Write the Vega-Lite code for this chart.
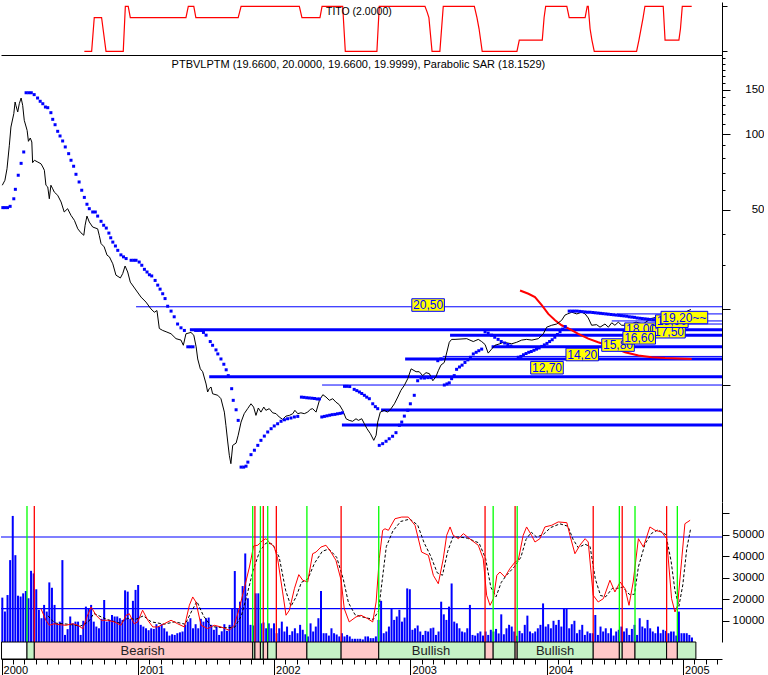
{
"$schema": "https://vega.github.io/schema/vega-lite/v6.json",
"padding": 0,
"spacing": 0,
"bounds": "flush",
"background": "white",
"config": {
  "view": {"stroke": null},
  "axis": {"labelFont": "Liberation Sans", "labelColor": "black", "tickColor": "black", "domainColor": "black", "grid": false, "title": null, "labelFontSize": 11.5, "labelOverlap": false, "labelFlush": false, "labelBound": false},
  "text": {"font": "Liberation Sans"}
},
"resolve": {"scale": {"color": "independent", "fill": "independent"}},
"datasets": {
  "tito": [{"w":31.4,"v":-2},{"w":34.2,"v":-2},{"w":35.2,"v":1},{"w":38.0,"v":1},{"w":39.7,"v":-2},{"w":46.3,"v":-2},{"w":47.1,"v":2},{"w":48.2,"v":2},{"w":49.0,"v":1},{"w":70.3,"v":1},{"w":71.2,"v":2},{"w":73.3,"v":2},{"w":74.1,"v":1},{"w":90.3,"v":1},{"w":91.4,"v":2},{"w":113.7,"v":2},{"w":114.7,"v":1},{"w":121.6,"v":1},{"w":122.4,"v":2},{"w":130.3,"v":2},{"w":131.3,"v":-2},{"w":143.4,"v":-2},{"w":144.3,"v":2},{"w":161.8,"v":2},{"w":162.6,"v":1.5},{"w":163.3,"v":1},{"w":164.5,"v":-2},{"w":167.5,"v":-2},{"w":168.8,"v":2},{"w":180.7,"v":2},{"w":181.7,"v":1},{"w":182.5,"v":0},{"w":183.1,"v":-1},{"w":183.7,"v":-2},{"w":197.0,"v":-2},{"w":197.9,"v":-1},{"w":206.7,"v":-1},{"w":207.4,"v":1},{"w":208.0,"v":2},{"w":216.1,"v":2},{"w":217.0,"v":1},{"w":223.1,"v":1},{"w":223.9,"v":2},{"w":224.3,"v":2},{"w":225.0,"v":0},{"w":225.7,"v":-1},{"w":226.6,"v":-2},{"w":242.8,"v":-2},{"w":243.7,"v":-1},{"w":244.5,"v":0},{"w":245.3,"v":1},{"w":246.0,"v":2},{"w":253.0,"v":2},{"w":253.7,"v":-1},{"w":259.0,"v":-1},{"w":259.6,"v":0},{"w":260.3,"v":2},{"w":263.9,"v":2}],
  "price": [{"w":0,"p":62.5},{"w":1.0,"p":65.4},{"w":1.8,"p":72.7},{"w":2.7,"p":90.2},{"w":3.3,"p":106.6},{"w":4.4,"p":120.5},{"w":4.9,"p":134.1},{"w":5.2,"p":130.1},{"w":5.9,"p":122.4},{"w":6.5,"p":132},{"w":7.2,"p":139.1},{"w":7.8,"p":130.1},{"w":8.4,"p":113.4},{"w":9.5,"p":103.4},{"w":10.0,"p":93.5},{"w":10.7,"p":96.4},{"w":11.3,"p":92.9},{"w":11.6,"p":76.9},{"w":12.3,"p":78.6},{"w":13.6,"p":77.3},{"w":14.8,"p":76.1},{"w":15.5,"p":73.9},{"w":16.1,"p":71.7},{"w":16.7,"p":62.5},{"w":17.4,"p":61.5},{"w":18.0,"p":55.2},{"w":18.6,"p":62.5},{"w":19.3,"p":60.5},{"w":19.9,"p":58.7},{"w":21.2,"p":57.0},{"w":22.5,"p":53.6},{"w":23.7,"p":48.9},{"w":25.0,"p":50.4},{"w":26.3,"p":47.4},{"w":27.6,"p":45.3},{"w":28.9,"p":41.9},{"w":30.1,"p":40.4},{"w":31.2,"p":39.5},{"w":31.7,"p":43.3},{"w":32.4,"p":47.1},{"w":33.3,"p":44.6},{"w":34.6,"p":42.6},{"w":36.5,"p":41.9},{"w":37.1,"p":39.5},{"w":37.8,"p":36.6},{"w":39.0,"p":35.5},{"w":40.1,"p":32.9},{"w":41.0,"p":32.4},{"w":42.3,"p":30.4},{"w":43.5,"p":27.4},{"w":45.2,"p":26.7},{"w":46.1,"p":27.8},{"w":47.0,"p":29.8},{"w":48.0,"p":28.2},{"w":49.0,"p":25.7},{"w":53.1,"p":22.4},{"w":55.0,"p":21.4},{"w":56.9,"p":20.1},{"w":58.2,"p":19.5},{"w":59.2,"p":19.8},{"w":60.1,"p":16.8},{"w":61.4,"p":16.5},{"w":62.7,"p":16.3},{"w":64.6,"p":16.0},{"w":66.5,"p":15.3},{"w":68.4,"p":15.1},{"w":69.3,"p":14.4},{"w":70.3,"p":16.0},{"w":72.2,"p":16.2},{"w":73.3,"p":15.8},{"w":74.2,"p":14.2},{"w":74.8,"p":12.7},{"w":75.8,"p":11.6},{"w":76.7,"p":11.3},{"w":78.0,"p":10.1},{"w":78.6,"p":9.38},{"w":79.2,"p":9.67},{"w":79.9,"p":9.82},{"w":80.5,"p":9.23},{"w":82.5,"p":9.10},{"w":83.7,"p":8.82},{"w":85.0,"p":7.80},{"w":85.6,"p":6.91},{"w":86.3,"p":5.93},{"w":86.9,"p":5.25},{"w":87.5,"p":4.86},{"w":88.2,"p":5.75},{"w":89.5,"p":5.87},{"w":90.3,"p":6.31},{"w":91.4,"p":7.12},{"w":92.6,"p":7.69},{"w":93.9,"p":8.05},{"w":95.2,"p":8.42},{"w":96.2,"p":8.17},{"w":97.1,"p":7.57},{"w":98.0,"p":8.10},{"w":99.0,"p":7.80},{"w":100.1,"p":8.17},{"w":100.9,"p":7.93},{"w":102.2,"p":8.05},{"w":103.5,"p":7.75},{"w":104.8,"p":7.69},{"w":106.0,"p":7.46},{"w":107.3,"p":7.30},{"w":108.6,"p":7.52},{"w":109.9,"p":7.57},{"w":111.2,"p":7.69},{"w":112.0,"p":7.93},{"w":113.1,"p":7.69},{"w":114.3,"p":7.75},{"w":115.6,"p":7.69},{"w":116.9,"p":7.80},{"w":117.9,"p":8.00},{"w":118.8,"p":8.05},{"w":120.1,"p":7.80},{"w":121.4,"p":8.69},{"w":122.7,"p":9.15},{"w":123.9,"p":8.96},{"w":125.2,"p":8.69},{"w":126.5,"p":8.82},{"w":127.7,"p":8.55},{"w":129.0,"p":8.35},{"w":130.3,"p":7.93},{"w":131.6,"p":7.34},{"w":132.8,"p":7.23},{"w":134.1,"p":7.17},{"w":135.4,"p":7.34},{"w":136.3,"p":7.23},{"w":137.6,"p":7.34},{"w":138.6,"p":7.01},{"w":139.6,"p":6.70},{"w":140.9,"p":6.40},{"w":142.2,"p":6.02},{"w":143.1,"p":6.31},{"w":143.7,"p":7.12},{"w":144.7,"p":7.80},{"w":146.2,"p":7.93},{"w":147.5,"p":7.80},{"w":148.8,"p":8.05},{"w":150.1,"p":8.42},{"w":151.4,"p":8.96},{"w":152.6,"p":9.53},{"w":153.9,"p":9.97},{"w":155.2,"p":10.6},{"w":156.5,"p":11.6},{"w":158.4,"p":11.3},{"w":159.6,"p":11.3},{"w":160.9,"p":10.9},{"w":162.2,"p":11.2},{"w":163.5,"p":11.1},{"w":164.8,"p":10.4},{"w":166.0,"p":10.8},{"w":166.9,"p":11.4},{"w":167.9,"p":12.0},{"w":169.2,"p":12.3},{"w":171.1,"p":14.8},{"w":172.0,"p":15.2},{"w":173.3,"p":15.2},{"w":177.8,"p":15.3},{"w":179.0,"p":15.1},{"w":180.3,"p":14.9},{"w":182.2,"p":15.2},{"w":183.5,"p":14.9},{"w":184.8,"p":14.5},{"w":186.0,"p":13.4},{"w":187.3,"p":13.9},{"w":188.6,"p":14.4},{"w":190.5,"p":14.6},{"w":191.8,"p":14.8},{"w":195.0,"p":14.6},{"w":196.9,"p":14.8},{"w":198.8,"p":15.1},{"w":200.7,"p":15.2},{"w":202.7,"p":15.1},{"w":205.2,"p":15.3},{"w":207.1,"p":16.0},{"w":208.4,"p":17.0},{"w":210.3,"p":17.3},{"w":212.2,"p":17.5},{"w":214.1,"p":18.1},{"w":215.4,"p":19.0},{"w":216.4,"p":19.2},{"w":218.0,"p":19.5},{"w":219.9,"p":19.2},{"w":221.8,"p":19.5},{"w":223.1,"p":19.2},{"w":224.3,"p":18.5},{"w":225.6,"p":17.3},{"w":227.5,"p":17.4},{"w":228.8,"p":17.0},{"w":230.7,"p":17.5},{"w":232.0,"p":17.0},{"w":233.3,"p":17.7},{"w":234.5,"p":17.3},{"w":235.8,"p":17.8},{"w":237.1,"p":17.3},{"w":239.4,"p":17.3},{"w":242.6,"p":17.8},{"w":245.3,"p":17.5},{"w":248.3,"p":18.4},{"w":250.2,"p":18.6},{"w":252.2,"p":18.2},{"w":255.2,"p":18.8},{"w":258.3,"p":19.2},{"w":261.3,"p":19.5},{"w":263.6,"p":20.0}],
  "sar": [{"w":0.2,"p":50.9},{"w":1,"p":50.9},{"w":2,"p":50.9},{"w":3,"p":51.5},{"w":4.4,"p":55.2},{"w":5,"p":60.2},{"w":6.1,"p":68.5},{"w":7.2,"p":76.4},{"w":8.2,"p":84.8},{"w":9.1,"p":146},{"w":10.1,"p":146},{"w":11.1,"p":146},{"w":12.2,"p":143.5},{"w":13.5,"p":139.1},{"w":14.5,"p":135},{"w":15.5,"p":132},{"w":16.5,"p":128.1},{"w":17.4,"p":127.3},{"w":18.6,"p":121.6},{"w":19.3,"p":114.4},{"w":20.2,"p":108.9},{"w":21.2,"p":102.5},{"w":22.1,"p":98.2},{"w":23.1,"p":93.8},{"w":24.1,"p":88.8},{"w":25.4,"p":83.5},{"w":26.3,"p":78.6},{"w":27.3,"p":74.4},{"w":28.2,"p":69.1},{"w":29.4,"p":64.4},{"w":30.4,"p":59.7},{"w":31.4,"p":55.9},{"w":32.4,"p":52.5},{"w":33.3,"p":50.4},{"w":34.6,"p":48.9},{"w":35.6,"p":48.9},{"w":36.5,"p":47.1},{"w":37.8,"p":44.9},{"w":38.8,"p":43.3},{"w":39.8,"p":42.2},{"w":40.8,"p":40.3},{"w":41.5,"p":38.6},{"w":42.3,"p":37.1},{"w":43.3,"p":35.8},{"w":44.2,"p":34.4},{"w":45.4,"p":33.0},{"w":46.4,"p":32.4},{"w":47.4,"p":31.9},{"w":49.3,"p":31.4},{"w":50.3,"p":31.4},{"w":51.2,"p":31.4},{"w":52.4,"p":30.9},{"w":53.4,"p":30.0},{"w":54.4,"p":28.9},{"w":55.4,"p":28.2},{"w":56.3,"p":27.5},{"w":57.2,"p":27.2},{"w":58.5,"p":26.1},{"w":59.5,"p":25.0},{"w":60.4,"p":24.1},{"w":61.4,"p":23.1},{"w":62.3,"p":22.1},{"w":63.3,"p":20.6},{"w":64.6,"p":19.7},{"w":65.8,"p":18.7},{"w":67.1,"p":17.5},{"w":68.4,"p":16.9},{"w":69.7,"p":16.5},{"w":71,"p":14.2},{"w":72,"p":14.2},{"w":73,"p":14.2},{"w":74,"p":16.5},{"w":75,"p":16.5},{"w":76,"p":16.5},{"w":77,"p":16.2},{"w":78,"p":15.8},{"w":79.6,"p":14.9},{"w":80.5,"p":14.4},{"w":81.8,"p":13.8},{"w":82.5,"p":13.3},{"w":83.7,"p":12.7},{"w":84.8,"p":12.1},{"w":85.7,"p":11.5},{"w":86.5,"p":10.9},{"w":87.8,"p":9.67},{"w":88.4,"p":8.69},{"w":89.5,"p":7.97},{"w":90.3,"p":7.23},{"w":91.4,"p":4.71},{"w":92.4,"p":4.71},{"w":93.3,"p":4.75},{"w":94,"p":4.93},{"w":95.2,"p":5.28},{"w":96.5,"p":5.5},{"w":97.8,"p":5.75},{"w":99,"p":6.02},{"w":100.3,"p":6.26},{"w":101.6,"p":6.5},{"w":102.9,"p":6.7},{"w":104.1,"p":6.87},{"w":105.4,"p":7.01},{"w":106.7,"p":7.17},{"w":108,"p":7.27},{"w":109.2,"p":7.34},{"w":110.5,"p":7.39},{"w":111.8,"p":7.46},{"w":113.1,"p":7.5},{"w":114.5,"p":8.95},{"w":115.5,"p":8.93},{"w":116.5,"p":8.9},{"w":117.5,"p":8.88},{"w":118.5,"p":8.86},{"w":119.5,"p":8.84},{"w":120.5,"p":8.8},{"w":121.4,"p":8.8},{"w":122.3,"p":7.46},{"w":123.3,"p":7.5},{"w":124.3,"p":7.54},{"w":125.3,"p":7.58},{"w":126.3,"p":7.62},{"w":127.3,"p":7.64},{"w":128.3,"p":7.68},{"w":129.3,"p":7.71},{"w":130.2,"p":7.75},{"w":131,"p":9.88},{"w":132,"p":9.88},{"w":133,"p":9.86},{"w":134.7,"p":9.61},{"w":135.7,"p":9.5},{"w":136.7,"p":9.38},{"w":137.6,"p":9.25},{"w":138.6,"p":9.1},{"w":139.5,"p":8.95},{"w":140.5,"p":8.82},{"w":141.8,"p":8.42},{"w":142.8,"p":8.2},{"w":143.7,"p":8.05},{"w":144.3,"p":5.75},{"w":145.6,"p":5.84},{"w":146.9,"p":5.97},{"w":148.1,"p":6.11},{"w":149.4,"p":6.25},{"w":150.7,"p":6.46},{"w":152,"p":6.91},{"w":152.9,"p":7.12},{"w":153.9,"p":7.52},{"w":155.2,"p":7.93},{"w":156.2,"p":8.42},{"w":157.7,"p":9.1},{"w":159,"p":10.4},{"w":160.3,"p":10.66},{"w":161.6,"p":10.66},{"w":162.9,"p":10.7},{"w":164.1,"p":10.7},{"w":166.7,"p":12.5},{"w":167.9,"p":12.7},{"w":169.2,"p":10.0},{"w":170.2,"p":10.1},{"w":171.1,"p":10.2},{"w":172,"p":10.6},{"w":173,"p":10.9},{"w":173.9,"p":11.55},{"w":175,"p":11.8},{"w":176,"p":12.0},{"w":177.1,"p":12.3},{"w":178.2,"p":12.6},{"w":179.2,"p":12.9},{"w":180.3,"p":13.3},{"w":181.4,"p":13.5},{"w":182.4,"p":13.7},{"w":183.5,"p":13.9},{"w":184.8,"p":16.3},{"w":186,"p":16.1},{"w":187.3,"p":15.8},{"w":188.5,"p":15.5},{"w":189.8,"p":15.2},{"w":191,"p":14.9},{"w":192.3,"p":14.7},{"w":193.5,"p":14.5},{"w":194.7,"p":14.3},{"w":197.5,"p":12.9},{"w":198.5,"p":13.0},{"w":199.5,"p":13.2},{"w":200.5,"p":13.35},{"w":201.5,"p":13.5},{"w":202.5,"p":13.6},{"w":203.5,"p":13.75},{"w":204.5,"p":13.9},{"w":205.5,"p":14.05},{"w":206.5,"p":14.25},{"w":207.5,"p":14.45},{"w":208.5,"p":14.65},{"w":209.5,"p":14.9},{"w":210.5,"p":15.15},{"w":211.5,"p":15.5},{"w":212.5,"p":15.9},{"w":213.5,"p":16.3},{"w":214.5,"p":16.7},{"w":215.5,"p":17.1},{"w":217,"p":19.7},{"w":218,"p":19.7},{"w":219,"p":19.7},{"w":220,"p":19.7},{"w":221,"p":19.65},{"w":222,"p":19.6},{"w":223,"p":19.55},{"w":224,"p":19.5},{"w":225,"p":19.5},{"w":226,"p":19.45},{"w":227,"p":19.4},{"w":228,"p":19.35},{"w":229,"p":19.3},{"w":230,"p":19.25},{"w":231,"p":19.2},{"w":232,"p":19.15},{"w":233,"p":19.1},{"w":234,"p":19.05},{"w":235,"p":19.0},{"w":236,"p":18.95},{"w":237,"p":18.9},{"w":238,"p":18.85},{"w":239,"p":18.8},{"w":240,"p":18.7},{"w":241,"p":18.65},{"w":242,"p":18.6},{"w":243,"p":18.5},{"w":244,"p":18.45},{"w":245,"p":18.4},{"w":246,"p":18.35},{"w":247,"p":18.3},{"w":248,"p":18.25},{"w":249,"p":18.2},{"w":250,"p":18.2},{"w":251,"p":18.15}],
  "curve": [{"w":198.2,"p":23.8},{"w":201.4,"p":23.1},{"w":203.9,"p":22.4},{"w":206.5,"p":20.8},{"w":209.0,"p":19.2},{"w":211.6,"p":18.1},{"w":214.1,"p":17.3},{"w":216.7,"p":16.8},{"w":220.5,"p":16.0},{"w":224.3,"p":15.3},{"w":228.1,"p":14.8},{"w":233.3,"p":14.2},{"w":238.4,"p":13.5},{"w":243.5,"p":13.1},{"w":248.6,"p":12.9},{"w":253.7,"p":12.8},{"w":263.9,"p":12.7}],
  "levels": [{"w":51.2,"p":20.5,"k":"thin"},{"w":235.3,"p":19.2,"k":"thin"},{"w":233.3,"p":18.0,"k":"thin"},{"w":243.0,"p":17.5,"k":"thin"},{"w":71.8,"p":16.6,"k":"thick"},{"w":171.4,"p":15.8,"k":"thick"},{"w":187.3,"p":14.2,"k":"thick"},{"w":168.6,"p":13.0,"k":"thin"},{"w":154.2,"p":12.7,"k":"thick"},{"w":79.2,"p":10.8,"k":"thick"},{"w":122.4,"p":10.0,"k":"thin"},{"w":145.0,"p":7.95,"k":"thick"},{"w":130.0,"p":6.93,"k":"thick"}],
  "labels": [{"w":163.0,"p":20.83,"label":"20,50","grp":"a"},{"w":208.5,"p":11.72,"label":"12,70","grp":"a"},{"w":222.0,"p":13.23,"label":"14,20","grp":"a"},{"w":235.7,"p":14.43,"label":"15,80","grp":"a"},{"w":244.5,"p":16.69,"label":"18,00","grp":"b"},{"w":255.2,"p":16.31,"label":"17,50","grp":"c"},{"w":243.8,"p":15.42,"label":"16,60","grp":"d"},{"w":256.3,"p":17.96,"label":"18,90","grp":"e"},{"w":261.1,"p":18.57,"label":"19,20~~","grp":"f"}],
  "titles": [{"w":64.8,"p":187.5,"t":"PTBVLPTM (19.6600, 20.0000, 19.6600, 19.9999), Parabolic SAR (18.1529)"}],
  "vol": [{"w":0,"v":20700},{"w":1,"v":14200},{"w":2,"v":21900},{"w":3,"v":38200},{"w":4,"v":58800},{"w":5,"v":40500},{"w":6,"v":21600},{"w":7,"v":21200},{"w":8,"v":22700},{"w":9,"v":23800},{"w":10,"v":20400},{"w":11,"v":33200},{"w":12,"v":32000},{"w":13,"v":24600},{"w":14,"v":15000},{"w":15,"v":11100},{"w":16,"v":17300},{"w":17,"v":14200},{"w":18,"v":27800},{"w":19,"v":25300},{"w":20,"v":17300},{"w":21,"v":8700},{"w":22,"v":9500},{"w":23,"v":38200},{"w":24,"v":3300},{"w":25,"v":6000},{"w":26,"v":11900},{"w":27,"v":8700},{"w":28,"v":9500},{"w":29,"v":9500},{"w":30,"v":3300},{"w":31,"v":9900},{"w":32,"v":16500},{"w":33,"v":15700},{"w":34,"v":17300},{"w":35,"v":9500},{"w":36,"v":7200},{"w":37,"v":6400},{"w":38,"v":10800},{"w":39,"v":19600},{"w":40,"v":9500},{"w":41,"v":10300},{"w":42,"v":12600},{"w":43,"v":11900},{"w":44,"v":11900},{"w":45,"v":11100},{"w":46,"v":10300},{"w":47,"v":24100},{"w":48,"v":23500},{"w":49,"v":10800},{"w":50,"v":19200},{"w":51,"v":24300},{"w":52,"v":26600},{"w":53,"v":8000},{"w":54,"v":7200},{"w":55,"v":6400},{"w":56,"v":5500},{"w":57,"v":6400},{"w":58,"v":6100},{"w":59,"v":8300},{"w":60,"v":7200},{"w":61,"v":8300},{"w":62,"v":6400},{"w":63,"v":4900},{"w":64,"v":3000},{"w":65,"v":3600},{"w":66,"v":3300},{"w":67,"v":4100},{"w":68,"v":4500},{"w":69,"v":4900},{"w":70,"v":8000},{"w":71,"v":9500},{"w":72,"v":11100},{"w":73,"v":6400},{"w":74,"v":8300},{"w":75,"v":6400},{"w":76,"v":10800},{"w":77,"v":9500},{"w":78,"v":11100},{"w":79,"v":11400},{"w":80,"v":8000},{"w":81,"v":5700},{"w":82,"v":7200},{"w":83,"v":3300},{"w":84,"v":5000},{"w":85,"v":8300},{"w":86,"v":5200},{"w":87,"v":8000},{"w":88,"v":15400},{"w":89,"v":33100},{"w":90,"v":15700},{"w":91,"v":18800},{"w":92,"v":26100},{"w":93,"v":41300},{"w":94,"v":20400},{"w":95,"v":8000},{"w":96,"v":7700},{"w":97,"v":22700},{"w":98,"v":22700},{"w":99,"v":8700},{"w":100,"v":9100},{"w":101,"v":6400},{"w":102,"v":8700},{"w":103,"v":6400},{"w":104,"v":8700},{"w":105,"v":4100},{"w":106,"v":6400},{"w":107,"v":9500},{"w":108,"v":4900},{"w":109,"v":7200},{"w":110,"v":3300},{"w":111,"v":5000},{"w":112,"v":6400},{"w":113,"v":4100},{"w":114,"v":8000},{"w":115,"v":5700},{"w":116,"v":3600},{"w":117,"v":2600},{"w":118,"v":8700},{"w":119,"v":4900},{"w":120,"v":7200},{"w":121,"v":11100},{"w":122,"v":23800},{"w":123,"v":4100},{"w":124,"v":4100},{"w":125,"v":3000},{"w":126,"v":6400},{"w":127,"v":4100},{"w":128,"v":3500},{"w":129,"v":2600},{"w":130,"v":4100},{"w":131,"v":2600},{"w":132,"v":3300},{"w":133,"v":2600},{"w":134,"v":1500},{"w":135,"v":1500},{"w":136,"v":1500},{"w":137,"v":1500},{"w":138,"v":1200},{"w":139,"v":2600},{"w":140,"v":2600},{"w":141,"v":1800},{"w":142,"v":1800},{"w":143,"v":2600},{"w":144,"v":10300},{"w":145,"v":19200},{"w":146,"v":4100},{"w":147,"v":4900},{"w":148,"v":7200},{"w":149,"v":15700},{"w":150,"v":10300},{"w":151,"v":11900},{"w":152,"v":15000},{"w":153,"v":9500},{"w":154,"v":11400},{"w":155,"v":25000},{"w":156,"v":24600},{"w":157,"v":5700},{"w":158,"v":6400},{"w":159,"v":7700},{"w":160,"v":4900},{"w":161,"v":3300},{"w":162,"v":5200},{"w":163,"v":4900},{"w":164,"v":6400},{"w":165,"v":6700},{"w":166,"v":3300},{"w":167,"v":4900},{"w":168,"v":18800},{"w":169,"v":12900},{"w":170,"v":10300},{"w":171,"v":16500},{"w":172,"v":27300},{"w":173,"v":9500},{"w":174,"v":8700},{"w":175,"v":6400},{"w":176,"v":4900},{"w":177,"v":4500},{"w":178,"v":6400},{"w":179,"v":17300},{"w":180,"v":3300},{"w":181,"v":3000},{"w":182,"v":4100},{"w":183,"v":4900},{"w":184,"v":3000},{"w":185,"v":4900},{"w":186,"v":3300},{"w":187,"v":5700},{"w":188,"v":4900},{"w":189,"v":6100},{"w":190,"v":4000},{"w":191,"v":12900},{"w":192,"v":3600},{"w":193,"v":6400},{"w":194,"v":8000},{"w":195,"v":7200},{"w":196,"v":4900},{"w":197,"v":2900},{"w":198,"v":5200},{"w":199,"v":4100},{"w":200,"v":8000},{"w":201,"v":12300},{"w":202,"v":4900},{"w":203,"v":4100},{"w":204,"v":4900},{"w":205,"v":6400},{"w":206,"v":8000},{"w":207,"v":18000},{"w":208,"v":7200},{"w":209,"v":8300},{"w":210,"v":6400},{"w":211,"v":9900},{"w":212,"v":8000},{"w":213,"v":10300},{"w":214,"v":7200},{"w":215,"v":15400},{"w":216,"v":15700},{"w":217,"v":6400},{"w":218,"v":8300},{"w":219,"v":9900},{"w":220,"v":4100},{"w":221,"v":5700},{"w":222,"v":8000},{"w":223,"v":3300},{"w":224,"v":4900},{"w":225,"v":4100},{"w":226,"v":4100},{"w":227,"v":12600},{"w":228,"v":3300},{"w":229,"v":7200},{"w":230,"v":4900},{"w":231,"v":6400},{"w":232,"v":4100},{"w":233,"v":6400},{"w":234,"v":3000},{"w":235,"v":4900},{"w":236,"v":5700},{"w":237,"v":7200},{"w":238,"v":4900},{"w":239,"v":6400},{"w":240,"v":3300},{"w":241,"v":6100},{"w":242,"v":8000},{"w":243,"v":3300},{"w":244,"v":11100},{"w":245,"v":7200},{"w":246,"v":6400},{"w":247,"v":10300},{"w":248,"v":6400},{"w":249,"v":4900},{"w":250,"v":4100},{"w":251,"v":7200},{"w":252,"v":4100},{"w":253,"v":5700},{"w":254,"v":5200},{"w":255,"v":4100},{"w":256,"v":4900},{"w":257,"v":4900},{"w":258,"v":3000},{"w":259,"v":14200},{"w":260,"v":4100},{"w":261,"v":4100},{"w":262,"v":4100},{"w":263,"v":3300},{"w":264,"v":2100}],
  "osc": [{"w":14.8,"o":20.0},{"w":16.7,"o":10.3},{"w":18.0,"o":6.1},{"w":19.9,"o":7.4},{"w":21.8,"o":6.6},{"w":24.4,"o":6.1},{"w":26.9,"o":7.4},{"w":28.9,"o":6.1},{"w":30.8,"o":3.3},{"w":32.4,"o":13.1},{"w":34.0,"o":21.4},{"w":35.9,"o":14.5},{"w":37.8,"o":10.3},{"w":40.3,"o":10.3},{"w":42.9,"o":8.9},{"w":45.4,"o":6.1},{"w":47.4,"o":14.5},{"w":48.6,"o":15.8},{"w":50.5,"o":7.4},{"w":51.8,"o":8.9},{"w":53.7,"o":18.7},{"w":55.7,"o":10.3},{"w":57.6,"o":4.7},{"w":59.5,"o":4.7},{"w":62.0,"o":7.4},{"w":64.6,"o":10.3},{"w":67.1,"o":7.4},{"w":69.7,"o":4.7},{"w":71.6,"o":22.8},{"w":72.9,"o":29.8},{"w":74.1,"o":25.6},{"w":76.1,"o":6.1},{"w":78.6,"o":3.3},{"w":81.1,"o":6.1},{"w":83.7,"o":4.7},{"w":86.9,"o":1.9},{"w":88.8,"o":6.1},{"w":90.7,"o":20.0},{"w":92.6,"o":36.7},{"w":94.6,"o":54.9},{"w":96.2,"o":72.5},{"w":97.8,"o":73.1},{"w":99.7,"o":77.2},{"w":100.9,"o":78.6},{"w":102.2,"o":75.8},{"w":104.1,"o":71.6},{"w":105.4,"o":61.8},{"w":107.3,"o":34.0},{"w":108.6,"o":14.5},{"w":109.9,"o":18.7},{"w":111.8,"o":36.7},{"w":113.5,"o":48.5},{"w":115.0,"o":43.8},{"w":116.9,"o":42.3},{"w":118.8,"o":66.0},{"w":120.1,"o":67.4},{"w":122.0,"o":71.6},{"w":123.9,"o":73.1},{"w":125.8,"o":67.4},{"w":127.7,"o":60.5},{"w":129.7,"o":43.8},{"w":130.9,"o":20.0},{"w":132.8,"o":8.9},{"w":135.4,"o":13.1},{"w":137.3,"o":14.5},{"w":139.9,"o":11.6},{"w":141.8,"o":8.9},{"w":143.1,"o":25.6},{"w":144.3,"o":61.8},{"w":145.6,"o":85.6},{"w":146.5,"o":86.9},{"w":147.8,"o":85.6},{"w":150.3,"o":95.3},{"w":152.9,"o":96.7},{"w":155.4,"o":96.7},{"w":158.0,"o":89.8},{"w":160.5,"o":67.4},{"w":163.1,"o":64.7},{"w":165.0,"o":47.9},{"w":166.9,"o":40.9},{"w":168.8,"o":61.8},{"w":170.1,"o":81.4},{"w":171.4,"o":88.4},{"w":172.6,"o":81.4},{"w":174.6,"o":78.6},{"w":176.5,"o":82.8},{"w":179.7,"o":77.2},{"w":182.2,"o":73.1},{"w":184.1,"o":61.8},{"w":185.4,"o":31.2},{"w":186.7,"o":22.8},{"w":188.0,"o":28.4},{"w":189.3,"o":47.9},{"w":190.5,"o":50.7},{"w":192.4,"o":46.5},{"w":194.3,"o":53.5},{"w":196.3,"o":59.1},{"w":197.5,"o":60.5},{"w":199.4,"o":81.4},{"w":200.7,"o":88.4},{"w":202.6,"o":81.4},{"w":203.9,"o":75.8},{"w":205.8,"o":78.6},{"w":207.7,"o":88.4},{"w":210.3,"o":89.8},{"w":212.8,"o":92.6},{"w":216.1,"o":92.0},{"w":217.3,"o":81.4},{"w":219.2,"o":66.0},{"w":221.1,"o":73.1},{"w":223.1,"o":78.6},{"w":224.3,"o":75.8},{"w":226.2,"o":31.2},{"w":228.1,"o":25.6},{"w":230.1,"o":28.4},{"w":232.6,"o":43.8},{"w":234.5,"o":34.0},{"w":236.5,"o":42.3},{"w":238.4,"o":36.7},{"w":239.9,"o":22.8},{"w":241.5,"o":42.3},{"w":243.5,"o":78.6},{"w":245.4,"o":71.6},{"w":247.9,"o":88.4},{"w":249.9,"o":85.6},{"w":252.4,"o":84.2},{"w":254.3,"o":78.6},{"w":256.2,"o":28.4},{"w":257.5,"o":17.2},{"w":258.5,"o":22.8},{"w":260.1,"o":61.8},{"w":261.3,"o":91.1},{"w":263.3,"o":94.0}],
  "oscd": [{"w":17.5,"o":14},{"w":20,"o":8},{"w":25,"o":7},{"w":30,"o":5.5},{"w":33,"o":9},{"w":35,"o":16},{"w":37,"o":14},{"w":40,"o":11},{"w":45,"o":8},{"w":48,"o":12},{"w":51,"o":11},{"w":54,"o":14},{"w":57,"o":9},{"w":62,"o":7},{"w":66,"o":9},{"w":70,"o":7},{"w":72.5,"o":18},{"w":74.5,"o":26},{"w":77,"o":14},{"w":80,"o":5},{"w":85,"o":4},{"w":89,"o":4.5},{"w":91.5,"o":14},{"w":93.5,"o":30},{"w":96,"o":52},{"w":98.5,"o":68},{"w":101,"o":75},{"w":103.5,"o":74},{"w":106,"o":63},{"w":108.5,"o":35},{"w":110.5,"o":22},{"w":112.5,"o":30},{"w":114.5,"o":42},{"w":117,"o":45},{"w":119.5,"o":58},{"w":122.5,"o":68},{"w":125,"o":70},{"w":128,"o":63},{"w":130.5,"o":45},{"w":132.5,"o":25},{"w":135,"o":15},{"w":138,"o":13},{"w":142,"o":11},{"w":144,"o":18},{"w":145.5,"o":45},{"w":147,"o":72},{"w":149.5,"o":85},{"w":152.5,"o":93},{"w":156,"o":95},{"w":159,"o":90},{"w":161.5,"o":75},{"w":164,"o":64},{"w":166.5,"o":50},{"w":168.5,"o":48},{"w":170.5,"o":68},{"w":172.5,"o":80},{"w":175,"o":80},{"w":178,"o":79},{"w":182.5,"o":75},{"w":185,"o":62},{"w":187,"o":38},{"w":189,"o":30},{"w":191,"o":42},{"w":193,"o":48},{"w":196,"o":55},{"w":198.5,"o":63},{"w":200.5,"o":78},{"w":202.5,"o":84},{"w":204.5,"o":80},{"w":207,"o":82},{"w":210,"o":88},{"w":213.5,"o":91},{"w":216.5,"o":89},{"w":218.5,"o":78},{"w":220.5,"o":71},{"w":223,"o":74},{"w":225,"o":72},{"w":227,"o":45},{"w":229,"o":31},{"w":231,"o":30},{"w":233.5,"o":37},{"w":235.5,"o":37},{"w":237.5,"o":38},{"w":240,"o":32},{"w":242,"o":32},{"w":243.5,"o":55},{"w":246,"o":74},{"w":248.5,"o":83},{"w":251,"o":86},{"w":254,"o":82},{"w":256,"o":60},{"w":257.5,"o":35},{"w":259,"o":22},{"w":260.5,"o":40},{"w":262,"o":70},{"w":263.5,"o":87}],
  "osclev": [{"o":80},{"o":20}],
  "signals": [{"w":9.45,"s":"buy"},{"w":12.25,"s":"sell"},{"w":95.85,"s":"buy"},{"w":96.7,"s":"sell"},{"w":98.8,"s":"buy"},{"w":99.9,"s":"sell"},{"w":101.6,"s":"buy"},{"w":104.9,"s":"sell"},{"w":116.6,"s":"buy"},{"w":129.7,"s":"sell"},{"w":144.1,"s":"buy"},{"w":184.8,"s":"sell"},{"w":187.9,"s":"buy"},{"w":196.3,"s":"sell"},{"w":197.1,"s":"buy"},{"w":226.2,"s":"sell"},{"w":236.2,"s":"buy"},{"w":237.3,"s":"sell"},{"w":242.2,"s":"buy"},{"w":254.3,"s":"sell"},{"w":258.4,"s":"buy"}],
  "bands": [{"w0":-0.3,"w1":9.45,"st":"none"},{"w0":9.45,"w1":12.25,"st":"bull"},{"w0":12.25,"w1":95.85,"st":"bear"},{"w0":95.85,"w1":96.7,"st":"bull"},{"w0":96.7,"w1":98.8,"st":"bear"},{"w0":98.8,"w1":99.9,"st":"bull"},{"w0":99.9,"w1":101.6,"st":"bear"},{"w0":101.6,"w1":104.9,"st":"bull"},{"w0":104.9,"w1":116.6,"st":"bear"},{"w0":116.6,"w1":129.7,"st":"bull"},{"w0":129.7,"w1":144.1,"st":"bear"},{"w0":144.1,"w1":184.8,"st":"bull"},{"w0":184.8,"w1":187.9,"st":"bear"},{"w0":187.9,"w1":196.3,"st":"bull"},{"w0":196.3,"w1":197.1,"st":"bear"},{"w0":197.1,"w1":226.2,"st":"bull"},{"w0":226.2,"w1":236.2,"st":"bear"},{"w0":236.2,"w1":237.3,"st":"bull"},{"w0":237.3,"w1":242.2,"st":"bear"},{"w0":242.2,"w1":254.3,"st":"bull"},{"w0":254.3,"w1":258.4,"st":"bear"},{"w0":258.4,"w1":265.5,"st":"bull"}],
  "bandtext": [{"w":53.7,"t":"Bearish"},{"w":164.1,"t":"Bullish"},{"w":211.6,"t":"Bullish"}]
},
"vconcat": [
  {
    "width": 721, "height": 53,
    "encoding": {"x": {"field": "w", "type": "quantitative", "scale": {"domain": [-0.5, 275.5], "nice": false, "zero": false}, "axis": {"labels": false, "ticks": false, "domain": true, "title": null}}},
    "layer": [
      {"data": {"name": "tito"}, "mark": {"type": "line", "color": "#ff0000", "strokeWidth": 1.2},
       "encoding": {"y": {"field": "v", "type": "quantitative", "scale": {"domain": [-2.33, 2.38], "nice": false, "zero": false},
         "axis": {"orient": "right", "values": [-2, -1, 0, 1, 2], "tickSize": 5, "labelExpr": "datum.value == 0 ? '0' : ''", "labelAlign": "right", "labelBaseline": "middle", "labelPadding": 37}}}},
      {"data": {"values": [{"w": 123.9, "v": 1.45, "t": "TITO (2.0000)"}]}, "mark": {"type": "text", "align": "left", "baseline": "middle", "fontSize": 10.5, "color": "black"},
       "encoding": {"y": {"field": "v", "type": "quantitative"}, "text": {"field": "t"}}}
    ]
  },
  {
    "width": 721, "height": 447,
    "encoding": {
      "x": {"field": "w", "type": "quantitative", "scale": {"domain": [-0.5, 275.5], "nice": false, "zero": false}, "axis": null},
      "y": {"field": "p", "type": "quantitative", "scale": {"type": "log", "domain": [3.42, 206.4], "nice": false}, "axis": null}
    },
    "layer": [
      {"data": {"name": "levels"}, "mark": {"type": "rule", "color": "#0000ff"},
       "encoding": {
         "x2": {"datum": 275.5},
         "y": {"field": "p", "type": "quantitative", "scale": {"type": "log", "domain": [3.42, 206.4], "nice": false},
           "axis": {"orient": "right", "values": [10, 20, 50, 100, 150], "tickSize": 8, "labelExpr": "datum.value >= 50 ? '' + datum.value : ''", "labelAlign": "right", "labelBaseline": "middle", "labelPadding": 34}},
         "strokeWidth": {"field": "k", "type": "nominal", "scale": {"domain": ["thick", "thin"], "range": [3, 1]}, "legend": null}}},
      {"data": {"name": "curve"}, "mark": {"type": "line", "color": "#ff0000", "strokeWidth": 2}},
      {"data": {"name": "price"}, "mark": {"type": "line", "color": "black", "strokeWidth": 1},
       "encoding": {"y": {"field": "p", "type": "quantitative", "scale": {"type": "log", "domain": [3.42, 206.4], "nice": false},
         "axis": {"orient": "right", "values": [30, 40, 60, 70, 80, 90, 110, 120, 130, 140, 160, 170, 180, 190, 200], "tickSize": 3, "labels": false, "domain": false}}}},
      {"data": {"name": "sar"}, "mark": {"type": "square", "size": 9, "color": "#0000ff", "filled": true, "opacity": 1}},
      {"data": {"name": "labels"}, "transform": [{"filter": "datum.grp == 'a'"}], "mark": {"type": "point", "shape": "M-1,-0.386L1,-0.386L1,0.386L-1,0.386Z", "size": 1063, "filled": true, "fill": "#ffff00", "stroke": "#0000ff", "strokeWidth": 1, "opacity": 1}},
      {"data": {"name": "labels"}, "transform": [{"filter": "datum.grp == 'a'"}], "mark": {"type": "text", "color": "#0000ff", "fontSize": 12, "align": "center", "baseline": "middle"}, "encoding": {"text": {"field": "label"}}},
      {"data": {"name": "labels"}, "transform": [{"filter": "datum.grp == 'b'"}], "mark": {"type": "point", "shape": "M-1,-0.386L1,-0.386L1,0.386L-1,0.386Z", "size": 1063, "filled": true, "fill": "#ffff00", "stroke": "#0000ff", "strokeWidth": 1, "opacity": 1}},
      {"data": {"name": "labels"}, "transform": [{"filter": "datum.grp == 'b'"}], "mark": {"type": "text", "color": "#0000ff", "fontSize": 12, "align": "center", "baseline": "middle"}, "encoding": {"text": {"field": "label"}}},
      {"data": {"name": "labels"}, "transform": [{"filter": "datum.grp == 'c'"}], "mark": {"type": "point", "shape": "M-1,-0.386L1,-0.386L1,0.386L-1,0.386Z", "size": 1063, "filled": true, "fill": "#ffff00", "stroke": "#0000ff", "strokeWidth": 1, "opacity": 1}},
      {"data": {"name": "labels"}, "transform": [{"filter": "datum.grp == 'c'"}], "mark": {"type": "text", "color": "#0000ff", "fontSize": 12, "align": "center", "baseline": "middle"}, "encoding": {"text": {"field": "label"}}},
      {"data": {"name": "labels"}, "transform": [{"filter": "datum.grp == 'd'"}], "mark": {"type": "point", "shape": "M-1,-0.386L1,-0.386L1,0.386L-1,0.386Z", "size": 1063, "filled": true, "fill": "#ffff00", "stroke": "#0000ff", "strokeWidth": 1, "opacity": 1}},
      {"data": {"name": "labels"}, "transform": [{"filter": "datum.grp == 'd'"}], "mark": {"type": "text", "color": "#0000ff", "fontSize": 12, "align": "center", "baseline": "middle"}, "encoding": {"text": {"field": "label"}}},
      {"data": {"name": "labels"}, "transform": [{"filter": "datum.grp == 'e'"}], "mark": {"type": "point", "shape": "M-1,-0.386L1,-0.386L1,0.386L-1,0.386Z", "size": 1063, "filled": true, "fill": "#ffff00", "stroke": "#0000ff", "strokeWidth": 1, "opacity": 1}},
      {"data": {"name": "labels"}, "transform": [{"filter": "datum.grp == 'e'"}], "mark": {"type": "text", "color": "#0000ff", "fontSize": 12, "align": "center", "baseline": "middle"}, "encoding": {"text": {"field": "label"}}},
      {"data": {"name": "labels"}, "transform": [{"filter": "datum.grp == 'f'"}], "mark": {"type": "point", "shape": "M-1,-0.266L1,-0.266L1,0.266L-1,0.266Z", "size": 2181, "filled": true, "fill": "#ffff00", "stroke": "#0000ff", "strokeWidth": 1, "opacity": 1}},
      {"data": {"name": "labels"}, "transform": [{"filter": "datum.grp == 'f'"}], "mark": {"type": "text", "color": "#0000ff", "fontSize": 12, "align": "center", "baseline": "middle"}, "encoding": {"text": {"field": "label"}}},
      {"data": {"name": "titles"}, "mark": {"type": "text", "align": "left", "baseline": "middle", "fontSize": 11, "color": "black"}, "encoding": {"text": {"field": "t"}}}
    ],
    "resolve": {"axis": {"y": "independent"}}
  },
  {
    "width": 721, "height": 140,
    "encoding": {"x": {"field": "w", "type": "quantitative", "scale": {"domain": [-0.5, 275.5], "nice": false, "zero": false, "padding": 0}, "axis": null}},
    "layer": [
      {"data": {"name": "vol"}, "mark": {"type": "bar", "width": 2, "color": "#0000ff"},
       "encoding": {"y": {"field": "v", "type": "quantitative", "scale": {"domain": [0, 65300], "nice": false, "zero": true},
         "axis": {"orient": "right", "values": [10000, 20000, 30000, 40000, 50000, 60000], "tickSize": 7, "labelExpr": "datum.value < 60000 ? '' + datum.value : ''", "labelAlign": "right", "labelBaseline": "middle", "labelPadding": 35}}}},
      {"data": {"name": "osclev"}, "mark": {"type": "rule", "color": "#0000ff", "strokeWidth": 1.2},
       "encoding": {"x": {"value": 0}, "x2": {"value": 721}, "y": {"field": "o", "type": "quantitative", "scale": {"domain": [-7.9, 109.3], "nice": false, "zero": false}, "axis": null}}},
      {"data": {"name": "oscd"}, "mark": {"type": "line", "color": "black", "strokeWidth": 1, "strokeDash": [3, 2]},
       "encoding": {"y": {"field": "o", "type": "quantitative", "scale": {"domain": [-7.9, 109.3], "nice": false, "zero": false}, "axis": null}}},
      {"data": {"name": "osc"}, "mark": {"type": "line", "color": "#ff0000", "strokeWidth": 1},
       "encoding": {"y": {"field": "o", "type": "quantitative", "scale": {"domain": [-7.9, 109.3], "nice": false, "zero": false}, "axis": null}}},
      {"data": {"name": "signals"}, "mark": {"type": "rule", "strokeWidth": 1.3},
       "encoding": {"y": {"datum": 63400, "type": "quantitative", "scale": {"domain": [0, 65300], "nice": false, "zero": true}, "axis": null}, "y2": {"datum": 0},
         "stroke": {"field": "s", "type": "nominal", "scale": {"domain": ["buy", "sell"], "range": ["#00ff00", "#ff0000"]}, "legend": null}}}
    ],
    "resolve": {"scale": {"y": "independent"}, "axis": {"y": "independent"}}
  },
  {
    "width": 721, "height": 17,
    "layer": [
      {"data": {"name": "bands"}, "mark": {"type": "rect", "stroke": "black", "strokeWidth": 1},
       "encoding": {
         "x": {"field": "w0", "type": "quantitative", "scale": {"domain": [-0.5, 275.5], "nice": false, "zero": false},
           "axis": {"orient": "bottom", "values": [-0.3, 51.88, 104.05, 156.23, 208.4, 260.58], "tickSize": 18, "labelExpr": "['2000','2001','2002','2003','2004','2005'][round((datum.value+0.3)/52.18)]", "labelAlign": "left", "labelBaseline": "top", "labelPadding": -13, "labelOffset": 1.5, "labelFontSize": 11, "domain": true}},
         "x2": {"field": "w1"},
         "fill": {"field": "st", "type": "nominal", "scale": {"domain": ["none", "bull", "bear"], "range": ["#ffffff", "#c6f2c6", "#ffc8c8"]}, "legend": null}}},
      {"data": {"name": "bandtext"}, "mark": {"type": "text", "fontSize": 13, "color": "#222222", "align": "center", "baseline": "middle"},
       "encoding": {
         "x": {"field": "w", "type": "quantitative", "scale": {"domain": [-0.5, 275.5], "nice": false, "zero": false},
           "axis": {"orient": "bottom", "values": [-0.3,4.05,8.4,12.74,17.09,21.44,25.79,30.14,34.48,38.83,43.18,47.53,51.88,56.22,60.57,64.92,69.27,73.62,77.96,82.31,86.66,91.01,95.36,99.7,104.05,108.4,112.75,117.1,121.44,125.79,130.14,134.49,138.84,143.18,147.53,151.88,156.23,160.58,164.92,169.27,173.62,177.97,182.32,186.66,191.01,195.36,199.71,204.06,208.4,212.75,217.1,221.45,225.8,230.14,234.49,238.84,243.19,247.54,251.88,256.23,260.58,264.93,269.28,273.62], "tickSize": 5, "labels": false, "domain": false}},
         "y": {"datum": 0.5, "type": "quantitative", "scale": {"domain": [0, 1]}, "axis": null},
         "text": {"field": "t"}}}
    ],
    "resolve": {"axis": {"x": "independent"}}
  }
]
}
